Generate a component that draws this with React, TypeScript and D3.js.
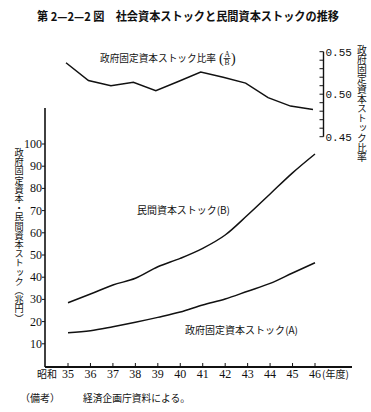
import React from "react";
import * as d3 from "d3";

const years = [35, 36, 37, 38, 39, 40, 41, 42, 43, 44, 45, 46];
const privateStock = [28.5, 32.4, 36.5, 39.5, 44.7, 48.5, 53, 59, 68, 77.5, 87, 95.5];
const govStock = [15.0, 15.9, 17.7, 19.7, 21.9, 24.3, 27.5, 30.2, 33.7, 37.2, 41.9, 46.5];
const ratio = [0.537, 0.516, 0.51, 0.514, 0.504, 0.515, 0.526, 0.52, 0.513, 0.496, 0.486, 0.482];
const leftTicks = [10, 20, 30, 40, 50, 60, 70, 80, 90, 100];
const rightMajor = [0.45, 0.5, 0.55];
const rightMinor = [0.46, 0.47, 0.48, 0.49, 0.51, 0.52, 0.53, 0.54];

const title = "第 2—2—2 図　社会資本ストックと民間資本ストックの推移";
const ratioLabel = "政府固定資本ストック比率";
const privateLabel = "民間資本ストック(B)";
const govLabel = "政府固定資本ストック(A)";
const leftAxisLabel = "政府固定資本・民間資本ストック（兆円）";
const rightAxisLabel = "政府固定資本ストック比率";
const noteHead = "（備考）";
const noteBody = "経済企画庁資料による。";

const serif = "'Liberation Serif', 'Times New Roman', serif";
const jp = "'Noto Sans CJK JP', sans-serif";
const ink = "#111";

export default function App() {
  const x = d3.scaleLinear().domain([35, 46]).range([68, 315]);
  const y = d3.scaleLinear().domain([0, 100]).range([366, 144]);
  const yr = d3.scaleLinear().domain([0.45, 0.55]).range([136.7, 51.7]);

  const line = d3.line<number>().x((_, i) => x(years[i])).y((d) => y(d)).curve(d3.curveMonotoneX);
  const rline = d3.line<number>().x((_, i) => x(years[i]) - 2).y((d) => yr(d));

  const axisX = 45;
  const baseY = 367;
  const rAxisX = 323.5;

  return (
    <svg width={371} height={412} style={{ position: "absolute", left: 0, top: 0, background: "#fff" }}>
      <rect width={371} height={412} fill="#fff" />
      {/* title */}
      <text x={188} y={21} textAnchor="middle" fontFamily={jp} fontWeight="bold" fontSize={12} fill={ink}
        textLength={302} lengthAdjust="spacingAndGlyphs">{title}</text>

      {/* left axis */}
      <line x1={axisX} x2={axisX} y1={108} y2={baseY} stroke={ink} strokeWidth={1.6} />
      <line x1={axisX} x2={352} y1={baseY} y2={baseY} stroke={ink} strokeWidth={1.8} />
      {leftTicks.map((t) => (
        <g key={t}>
          <line x1={axisX - 3} x2={axisX} y1={y(t)} y2={y(t)} stroke={ink} strokeWidth={1} />
          <text x={axisX - 3} y={y(t) + 4} textAnchor="end" fontFamily={serif} fontSize={12} fill={ink}>{t}</text>
        </g>
      ))}
      {years.map((yv) => (
        <g key={yv}>
          <line x1={x(yv)} x2={x(yv)} y1={baseY} y2={baseY - 4} stroke={ink} strokeWidth={1} />
          <text x={x(yv)} y={baseY + 11} textAnchor="middle" fontFamily={serif} fontSize={12} fill={ink}>{yv}</text>
        </g>
      ))}
      <text x={47} y={baseY + 11} textAnchor="middle" fontFamily={jp} fontSize={10} fill={ink}>昭和</text>
      <text x={322} y={baseY + 11} fontFamily={jp} fontSize={10} fill={ink}>(年度)</text>

      {/* left axis label */}
      <text x={19} y={148} fontFamily={jp} fontSize={9.2} fill={ink}
        style={{ writingMode: "vertical-rl" } as any}>{leftAxisLabel}</text>

      {/* right axis */}
      <line x1={rAxisX} x2={rAxisX} y1={yr(0.55)} y2={yr(0.45)} stroke={ink} strokeWidth={1.4} />
      {rightMinor.map((t) => (
        <line key={t} x1={rAxisX - 4} x2={rAxisX} y1={yr(t)} y2={yr(t)} stroke={ink} strokeWidth={1} />
      ))}
      {rightMajor.map((t) => (
        <g key={t}>
          <line x1={rAxisX - 4} x2={rAxisX} y1={yr(t)} y2={yr(t)} stroke={ink} strokeWidth={1} />
          <text x={rAxisX + 2} y={yr(t) + 4} fontFamily="'Liberation Mono', 'DejaVu Sans Mono', monospace" fontSize={11} fill={ink}>{t.toFixed(2)}</text>
        </g>
      ))}
      <text x={362} y={45} fontFamily={jp} fontSize={9.8} fill={ink}
        style={{ writingMode: "vertical-rl" } as any}>{rightAxisLabel}</text>

      {/* lines */}
      <path d={rline(ratio) || ""} fill="none" stroke={ink} strokeWidth={1.5} />
      <path d={line(privateStock) || ""} fill="none" stroke={ink} strokeWidth={1.5} />
      <path d={line(govStock) || ""} fill="none" stroke={ink} strokeWidth={1.5} />

      {/* series labels */}
      <text x={100} y={62} fontFamily={jp} fontSize={10} fill={ink} textLength={116} lengthAdjust="spacingAndGlyphs">{ratioLabel}</text>
      <g fontFamily={serif} fill={ink}>
        <text x={219} y={63} fontSize={14}>(</text>
        <text x={224.5} y={57} fontSize={7.5}>A</text>
        <line x1={223.5} x2={230.5} y1={58.5} y2={58.5} stroke={ink} strokeWidth={0.8} />
        <text x={224.5} y={65} fontSize={7.5}>B</text>
        <text x={231} y={63} fontSize={14}>)</text>
      </g>
      <text x={137} y={214} fontFamily={jp} fontSize={10} fill={ink} textLength={93} lengthAdjust="spacingAndGlyphs">{privateLabel}</text>
      <text x={185} y={334} fontFamily={jp} fontSize={10} fill={ink} textLength={113} lengthAdjust="spacingAndGlyphs">{govLabel}</text>

      {/* note */}
      <text x={20} y={402} fontFamily={jp} fontSize={10} fill={ink}>{noteHead}</text>
      <text x={83} y={402} fontFamily={jp} fontSize={10} fill={ink} textLength={107} lengthAdjust="spacingAndGlyphs">{noteBody}</text>
    </svg>
  );
}
